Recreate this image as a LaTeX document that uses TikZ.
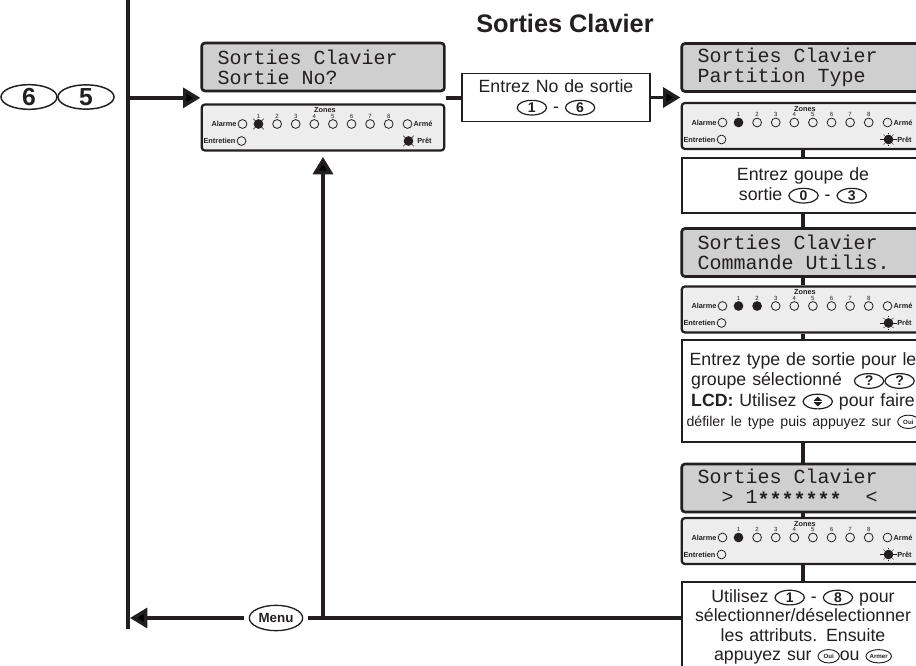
\documentclass[tikz,border=0pt]{standalone}
\usepackage{fontspec}
\setmainfont{Liberation Sans}
\setmonofont{Liberation Mono}
\usetikzlibrary{arrows.meta,calc,positioning,shapes.geometric}

\definecolor{inkdark}{RGB}{35,31,32}

\tikzset{
  keyoval/.style={ellipse, draw=inkdark, line width=0.9pt, minimum width=22pt,
    minimum height=11pt, inner sep=0pt, text=inkdark},
  ledray/.style={draw=inkdark, line width=0.5pt},
  ledoff/.style={circle, draw=inkdark, line width=0.6pt, minimum size=6.6pt, inner sep=0pt},
  ledon/.style={ledoff, fill=inkdark},
  ledflash/.style={ledon, append after command={
    foreach \ang in {45,135,225,315} {(\tikzlastnode.\ang) edge[ledray] ++(\ang:2pt)}}},
  ledlit/.style={ledon, append after command={
    foreach \ang in {0,180} {(\tikzlastnode.\ang) edge[ledray] ++(\ang:2.6pt)}
    foreach \ang in {45,90,135,225,270,315} {([shift={(\ang:0.6pt)}]\tikzlastnode.\ang) edge[ledray] ++(\ang:1pt)}}},
}

% keypad keys set inside a line of text
\newcommand{\keycap}[1]{\tikz[baseline=(kc.base)]\node[keyoval] (kc)
  {\fontsize{10.5}{11}\selectfont\bfseries #1};}
\newcommand{\smallkey}[1]{\tikz[baseline=-3.4pt]\node[keyoval, minimum width=16pt,
  minimum height=10pt, line width=0.7pt] (sk) {\fontsize{4.6}{5}\selectfont\bfseries #1};}
\newcommand{\scrollkey}{\tikz[baseline=-3.4pt]{\node[keyoval] (sc) {};
  \fill[inkdark] ([yshift=0.5pt]sc.center) ++(-3.2pt,0pt) -- ++(6.4pt,0pt) -- ++(-3.2pt,3.2pt) -- cycle;
  \fill[inkdark] ([yshift=-0.5pt]sc.center) ++(-3.2pt,0pt) -- ++(6.4pt,0pt) -- ++(-3.2pt,-3.2pt) -- cycle;}}
% one character cell of the display: blank, or a star
\newcommand{\lcdblank}{\hphantom{0}}
\newcommand{\lcdstar}{\makebox[9pt][c]{\raisebox{-2.6pt}{\bfseries *}}}

% LED panel under a display: name, centre, zone 1, zone 2, Pret
\newcommand{\ledpanel}[5]{%
  \node[ledbox] (#1) at (#2) {};
  \node[zonetxt] (#1-zones) at ($(#1.center)+(2,-17)$) {Zones};
  \foreach \z/\st in {1/#3,2/#4,3/ledoff,4/ledoff,5/ledoff,6/ledoff,7/ledoff,8/ledoff} {
    \node[digittxt] (#1-n\z) at ($(#1.center)+(-83.1+18.6*\z,-11.5)$) {\z};
    \node[\st] (#1-z\z) at ($(#1.center)+(-83.1+18.6*\z,-3.5)$) {};
  }
  \node[ledoff] (#1-alarm) at ($(#1.center)+(-80.5,-3.5)$) {};
  \node[paneltxt, anchor=east] (#1-alarmtxt) at (#1-alarm.west) {Alarme};
  \node[ledoff] (#1-arm) at ($(#1.center)+(84.5,-3.5)$) {};
  \node[paneltxt, anchor=west] (#1-armtxt) at (#1-arm.east) {Armé};
  \node[ledoff] (#1-serv) at ($(#1.center)+(-81.5,13.5)$) {};
  \node[paneltxt, anchor=east] (#1-servtxt) at (#1-serv.west) {Entretien};
  \node[#5] (#1-ready) at ($(#1.center)+(85.5,13.5)$) {};
  \node[paneltxt, anchor=west, xshift=2pt] (#1-readytxt) at (#1-ready.east) {Prêt};
}

\begin{document}
\begin{tikzpicture}[x=0.75pt, y=-0.75pt,
  lcdbox/.style={rectangle, draw=inkdark, line width=2pt, fill=black!19,
    rounded corners=2.5pt, text width=158pt, inner xsep=12pt, minimum height=36pt,
    align=left, text=inkdark, font=\ttfamily\fontsize{15}{15}\selectfont},
  ledbox/.style={rectangle, draw=inkdark, line width=1.7pt, fill=black!7,
    rounded corners=2.5pt, minimum width=182pt, minimum height=34.5pt},
  stepbox/.style={rectangle, draw=inkdark, line width=1.3pt, fill=white,
    text width=177.5pt, inner xsep=2pt, inner ysep=3pt, align=center,
    text=inkdark, font=\fontsize{13.3}{15.2}\selectfont},
  paneltxt/.style={font=\fontsize{5.5}{6}\selectfont\bfseries, text=inkdark, inner sep=0.8pt},
  zonetxt/.style={font=\fontsize{5.5}{6}\selectfont\bfseries, text=inkdark, inner sep=0pt},
  digittxt/.style={font=\fontsize{4.5}{5}\selectfont, text=inkdark, inner sep=0pt},
  titletxt/.style={font=\fontsize{19}{22}\selectfont\bfseries, text=inkdark},
  bigkey/.style={ellipse, draw=inkdark, line width=1.1pt, minimum width=42pt,
    minimum height=18pt, inner sep=0pt, text=inkdark,
    font=\fontsize{18.5}{18.5}\selectfont\bfseries},
  menukey/.style={ellipse, draw=inkdark, line width=1pt, minimum width=40pt,
    minimum height=19pt, inner sep=0pt, outer sep=4pt, text=inkdark,
    font=\fontsize{10}{10}\selectfont\bfseries},
  flowline/.style={draw=inkdark, line width=2.6pt},
  flowarrow/.style={flowline, -{Triangle[length=13pt, width=15pt]}},
  rail/.style={draw=inkdark, line width=2.6pt},
]
\useasboundingbox (0,0) rectangle (916,666);
\clip (0,0) rectangle (916,666);

% Column positions
\def\xleft{323}
\def\xright{803}

\node[titletxt, anchor=base] (title) at (565,33) {Sorties Clavier};

% ============================================================
% Entry keys and left rail
% ============================================================
\node[bigkey] (keySix) at (29,97) {6};
\node[bigkey] (keyFive) at (86,97) {5};

\coordinate (railtop) at (128,-5);
\coordinate (railbot) at (128,629);
\draw[rail] (railtop) -- (railbot);

% ============================================================
% Choose the output
% ============================================================
\node[lcdbox] (lcdA) at (\xleft,67) {Sorties\lcdblank Clavier\\Sortie\lcdblank No?};
\ledpanel{ledA}{\xleft,127.5}{ledflash}{ledoff}{ledflash}
\coordinate (gapA) at ($(lcdA.south)!0.5!(ledA.north)$);

\node[stepbox, text width=137pt, minimum height=36pt] (boxA) at (556,97.5)
  {Entrez No de sortie\\\keycap{1} - \keycap{6}};

% ============================================================
% Right column: partition, command, attributes
% ============================================================
\node[lcdbox] (lcdB) at (\xright,67.5) {Sorties\lcdblank Clavier\\Partition\lcdblank Type};
\ledpanel{ledB}{\xright,126}{ledon}{ledoff}{ledlit}

\node[stepbox, minimum height=41pt] (boxB) at (\xright,185.5)
  {Entrez goupe de\\sortie \keycap{0} - \keycap{3}};

\node[lcdbox] (lcdC) at (\xright,252.5) {Sorties\lcdblank Clavier\\Commande\lcdblank Utilis.};
\ledpanel{ledC}{\xright,309.5}{ledon}{ledon}{ledlit}

\node[stepbox, minimum height=76.5pt] (boxC) at (\xright,391)
  {Entrez type de sortie pour le\\groupe sélectionné \ \keycap{?}\keycap{?}\\
   \textbf{LCD:} Utilisez \scrollkey{} pour faire\\
   \mbox{\fontsize{10.6}{15.2}\selectfont défiler le type puis appuyez sur \smallkey{Oui}}};

\node[lcdbox] (lcdD) at (\xright,488)
  {Sorties\lcdblank Clavier\\\lcdblank\lcdblank>\lcdblank 1\lcdstar\lcdstar\lcdstar\lcdstar\lcdstar\lcdstar\lcdstar\lcdblank\lcdblank<};
\ledpanel{ledD}{\xright,541}{ledon}{ledoff}{ledlit}

\node[stepbox, minimum height=68pt, font=\fontsize{13.3}{14.6}\selectfont] (boxD) at (\xright,627)
  {Utilisez \keycap{1} - \keycap{8} pour\\sélectionner/déselectionner\\
   les attributs. Ensuite\\appuyez sur \smallkey{Oui}ou \smallkey{Armer}};

\node[menukey] (menu) at (276,618) {Menu};

% ============================================================
% Connectors
% ============================================================
\draw[flowarrow] (railtop |- gapA) -- (gapA -| lcdA.west);
\draw[flowline] (gapA -| lcdA.east) -- (boxA.west |- gapA);
\draw[flowarrow] (boxA.east) -- (boxA.east -| lcdB.west);

\draw[flowline] (ledB) -- (boxB);
\draw[flowline] (boxB) -- (lcdC);
\draw[flowline] (lcdC) -- (ledC);
\draw[flowline] (ledC) -- (boxC);
\draw[flowline] (boxC) -- (lcdD);
\draw[flowline] (lcdD) -- (ledD);
\draw[flowline] (ledD) -- (boxD);

% back to the first display, or out with Menu
\coordinate (loopturn) at (ledA.south |- menu);
\draw[flowline] (boxD.west |- menu) -- (loopturn);
\draw[flowarrow, shorten >=4pt] (loopturn) -- (ledA.south);
\draw[flowline] (loopturn) -- (menu);
\draw[flowarrow, shorten >=1.5pt] (menu) -- (menu -| railbot);

\end{tikzpicture}
\end{document}
